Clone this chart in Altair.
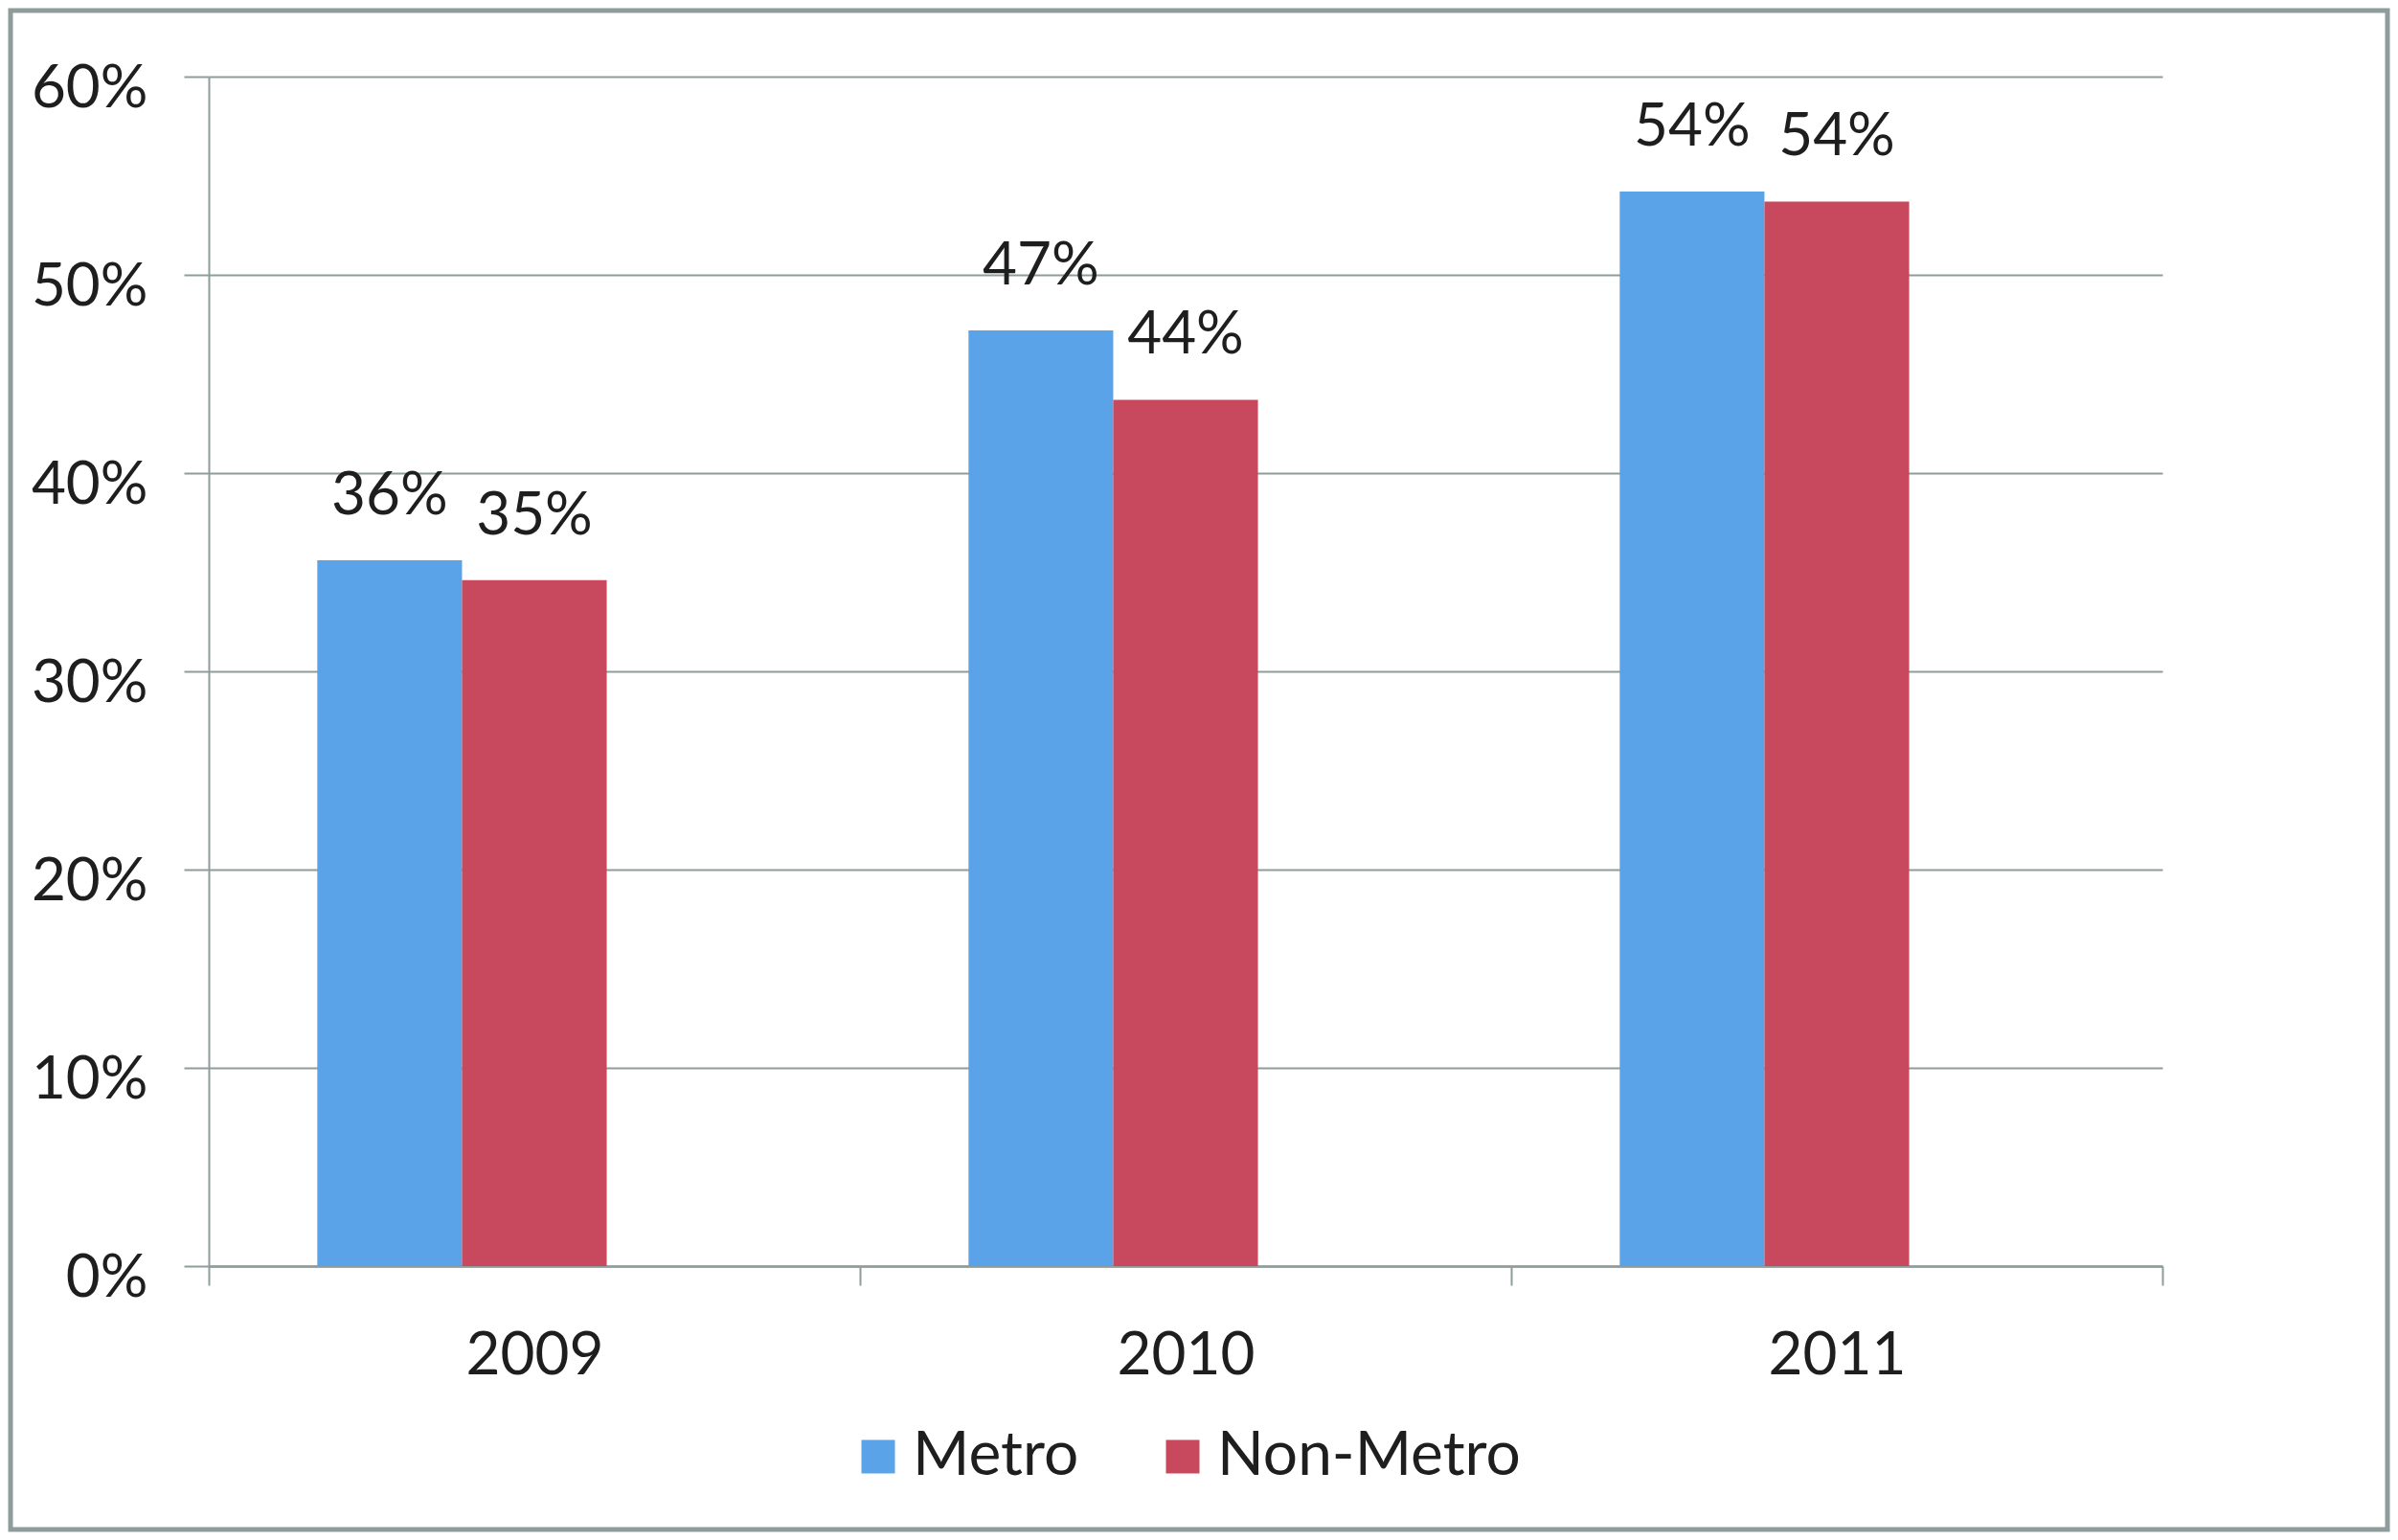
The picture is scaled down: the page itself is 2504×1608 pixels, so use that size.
import altair as alt
import pandas as pd

years = ["2009", "2010", "2011"]
series = ["Metro", "Non-Metro"]
metro = [0.356, 0.472, 0.542]
non_metro = [0.346, 0.437, 0.537]
y_ticks = [0, 0.1, 0.2, 0.3, 0.4, 0.5, 0.6]
colors = ["#5BA3E9", "#C8495D"]

rows = []
for i, yr in enumerate(years):
    rows.append({"year": yr, "series": series[0], "value": metro[i]})
    rows.append({"year": yr, "series": series[1], "value": non_metro[i]})
df = pd.DataFrame(rows)

W, H = 2040, 1242
FONT = "Lato"
GRID = "#8E9C9C"
TEXT = "#1E1E1E"
FS = 62

x = alt.X("year:N", sort=years, title=None,
          scale=alt.Scale(paddingInner=0, paddingOuter=0),
          axis=alt.Axis(tickBand="extent", tickSize=20, tickColor=GRID, tickWidth=2,
                        domainColor=GRID, domainWidth=2.5, labelFont=FONT,
                        labelFontSize=FS, labelColor=TEXT, labelPadding=43,
                        labelAngle=0, grid=False))
xo = alt.XOffset("series:N", scale=alt.Scale(domain=series + ["_blank"],
                                              paddingInner=0, paddingOuter=0.75))
y = alt.Y("value:Q", title=None, scale=alt.Scale(domain=[0, 0.6], nice=False),
          axis=alt.Axis(values=y_ticks, format=".0%", tickSize=26, tickColor=GRID,
                        tickWidth=2, gridColor=GRID, gridWidth=2, domainColor=GRID,
                        domainWidth=2, labelFont=FONT, labelFontSize=FS,
                        labelColor=TEXT, labelPadding=38, labelOffset=12,
                        labelLimit=1000))
color = alt.Color("series:N", scale=alt.Scale(domain=series, range=colors),
                  legend=alt.Legend(title=None, orient="none", legendX=667, legendY=1409,
                                    direction="horizontal", symbolType="square",
                                    symbolSize=1225, symbolStrokeWidth=0,
                                    labelFont=FONT, labelFontSize=64, labelColor=TEXT,
                                    labelOffset=4, columnPadding=76, labelLimit=1000))

bars = alt.Chart(df).mark_bar(strokeWidth=0).encode(x=x, xOffset=xo, y=y, color=color)
labels = alt.Chart(df).mark_text(dy=-48, baseline="alphabetic", font=FONT,
                                 fontSize=FS, color=TEXT).encode(
    x=x, xOffset=xo, y=y, text=alt.Text("value:Q", format=".0%"))

frame = alt.Chart(alt.Data(values=[{}])).mark_rect(fill=None, stroke=GRID, strokeWidth=5).encode(
    x=alt.value(-207), x2=alt.value(W + 235), y=alt.value(-69), y2=alt.value(H + 275))

chart = alt.layer(bars, labels, frame).properties(
    width=W, height=H,
    autosize=alt.AutoSizeParams(type="none"),
    padding={"left": 210, "top": 72, "right": 238, "bottom": 278},
    background="white",
).configure_view(strokeWidth=0)

chart.save("out.html", embed_options={"renderer": "svg", "actions": False})
